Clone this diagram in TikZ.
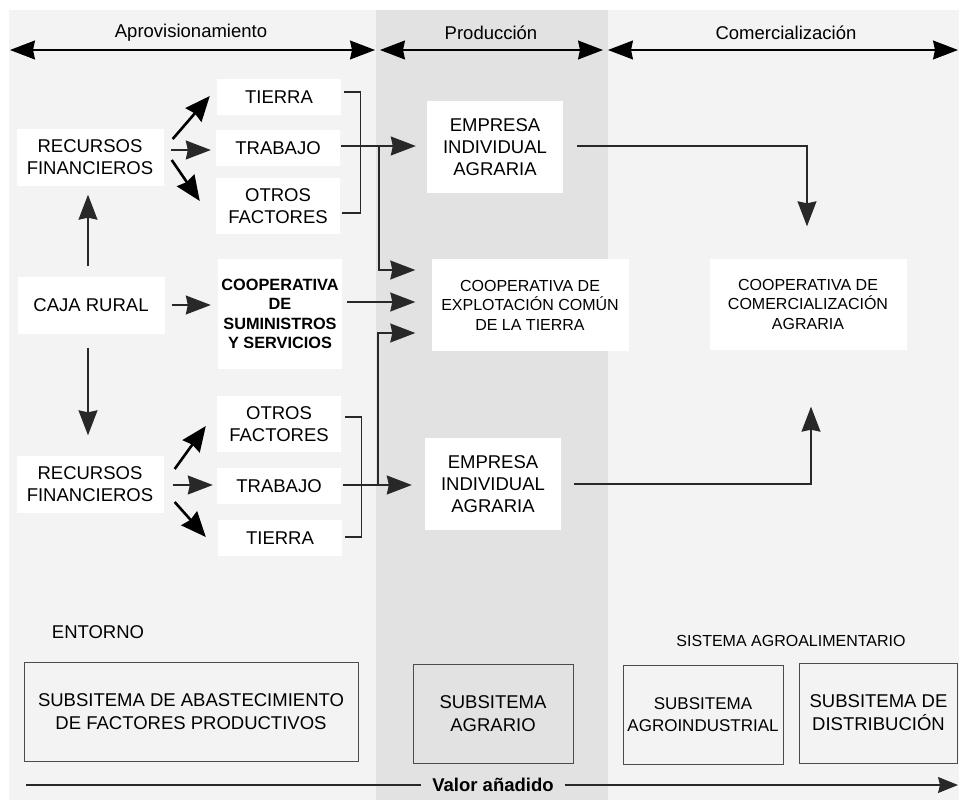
\documentclass[tikz,border=0pt]{standalone}
\usepackage{fontspec}
\setmainfont{Liberation Sans}
\usetikzlibrary{arrows.meta, calc, positioning}
\definecolor{bandlight}{RGB}{243,243,243}
\definecolor{banddark}{RGB}{226,226,226}
\definecolor{linegray}{RGB}{40,40,40}
\tikzstyle{factor} = [rectangle, text centered, align=center, fill=white,
	inner sep=0pt, minimum width=124pt, minimum height=36pt, font=\fontsize{18.5}{22}\selectfont]
\tikzstyle{agent} = [rectangle, text centered, align=center, fill=white,
	inner sep=0pt, minimum width=147pt, minimum height=57pt, font=\fontsize{18.5}{22}\selectfont]
\tikzstyle{coop} = [rectangle, text centered, align=center, fill=white,
	inner sep=0pt, minimum width=197pt, minimum height=92pt, font=\fontsize{16}{19.5}\selectfont]
\tikzstyle{subsystem} = [rectangle, text centered, align=center, draw=black!70,
	line width=1pt, inner sep=0pt, font=\fontsize{18.5}{23}\selectfont]
\tikzstyle{arrow} = [-{Stealth[length=25pt, width=19pt, inset=2pt]}, linegray, line width=1.2pt]
\tikzstyle{arrow-thick} = [-{Stealth[length=25pt, width=21pt, inset=2pt]}, black, line width=2.6pt]
\tikzstyle{span} = [{Stealth[length=25pt, width=19pt, inset=2pt]}-{Stealth[length=25pt, width=19pt, inset=2pt]}, black, line width=1.2pt]
\tikzstyle{link} = [linegray, line width=1.2pt]

\begin{document}
\begin{tikzpicture}[x=1pt, y=-1pt]
	\useasboundingbox (0,0) rectangle (959,800);

	% set up background bands
	\fill[bandlight] (9,10) rectangle (959,800);
	\fill[banddark] (376,10) rectangle (608,800);

	% set up phase headers
	\node (aprov) [font=\fontsize{18.5}{22}\selectfont] at (191,33) {Aprovisionamiento};
	\node (prod) [font=\fontsize{18.5}{22}\selectfont] at (491,33) {Producción};
	\node (comlabel) [font=\fontsize{18.5}{22}\selectfont] at (786,33) {Comercialización};
	\coordinate (a0) at (10,50);
	\coordinate (a1) at (375,50);
	\coordinate (p0) at (380,50);
	\coordinate (p1) at (603,50);
	\coordinate (c0) at (608,50);
	\coordinate (c1) at (958,50);
	\draw [span] (a0) -- (a1);
	\draw [span] (p0) -- (p1);
	\draw [span] (c0) -- (c1);

	% set up nodes
	\node (recursos1) [agent] at (90,157) {RECURSOS\\FINANCIEROS};
	\node (caja) [agent] at (91,305) {CAJA RURAL};
	\node (recursos2) [agent] at (90,484) {RECURSOS\\FINANCIEROS};
	\node (tierra1) [factor] at (279,97) {TIERRA};
	\node (trabajo1) [factor] at (278,148) {TRABAJO};
	\node (otros1) [factor, minimum height=56pt] at (278,206) {OTROS\\FACTORES};
	\node (suministros) [factor, minimum height=110pt, font=\fontsize{16.3}{19.5}\selectfont\bfseries] at (280,314) {COOPERATIVA\\DE\\SUMINISTROS\\Y SERVICIOS};
	\node (otros2) [factor, minimum height=56pt] at (279,424) {OTROS\\FACTORES};
	\node (trabajo2) [factor] at (279,486) {TRABAJO};
	\node (tierra2) [factor] at (280,538) {TIERRA};
	\node (empresa1) [factor, minimum width=136pt, minimum height=92pt] at (495,147) {EMPRESA\\INDIVIDUAL\\AGRARIA};
	\node (empresa2) [factor, minimum width=136pt, minimum height=92pt] at (493,484) {EMPRESA\\INDIVIDUAL\\AGRARIA};
	\node (coopexp) [coop] at (530,305) {COOPERATIVA DE\\EXPLOTACIÓN COMÚN\\DE LA TIERRA};
	\node (coopcom) [coop, minimum height=91pt] at (808,304) {COOPERATIVA DE\\COMERCIALIZACIÓN\\AGRARIA};

	% financing and factors
	\draw [arrow] ($(caja.north)+(-3,-10)$) -- ($(recursos1.south)+(-2,9)$);
	\draw [arrow] ($(caja.south)+(-3,14)$) -- ($(recursos2.north)+(-2,-20)$);
	\draw [arrow] ($(caja.east)+(7,0)$) -- ($(suministros.west)+(-7,-9)$);
	\draw [arrow-thick] ($(recursos1.east)+(9,-18)$) -- ($(tierra1.west)+(-7,-1)$);
	\draw [arrow] ($(recursos1.east)+(7,-7)$) -- ($(trabajo1.west)+(-5,2)$);
	\draw [arrow-thick] ($(recursos1.east)+(8,3)$) -- ($(otros1.west)+(-16,-5)$);
	\draw [arrow-thick] ($(recursos2.east)+(11,-15)$) -- ($(otros2.west)+(-11,2)$);
	\draw [arrow] ($(recursos2.east)+(9,1)$) -- ($(trabajo2.west)+(-4,-1)$);
	\draw [arrow-thick] ($(recursos2.east)+(11,18)$) -- ($(tierra2.west)+(-12,-1)$);

	% factors into the farms
	\draw [link] ($(tierra1.east)+(3,-5)$) -- ++(16,0) |- ($(otros1.east)+(2,7)$);
	\draw [link] ($(otros2.east)+(4,-7)$) -- ++(16,0) |- ($(tierra2.east)+(3,-1)$);
	\draw [arrow] ($(trabajo1.east)+(1,-2)$) -- ($(empresa1.west)+(-11,-1)$);
	\draw [arrow] ($(trabajo2.east)+(2,-1)$) -- ($(empresa2.west)+(-13,1)$);
	\coordinate (split1) at (379,146);
	\coordinate (split2) at (378,485);
	\draw [arrow] (split1) |- ($(coopexp.west)+(-16,-35)$);
	\draw [arrow] (split2) |- ($(coopexp.west)+(-16,28)$);
	\draw [arrow] ($(suministros.east)+(5,-12)$) -- ($(coopexp.west)+(-16,-3)$);

	% farms into marketing
	\draw [arrow] ($(empresa1.east)+(14,-1)$) -| ($(coopcom.north)+(-1,-32)$);
	\draw [arrow] ($(empresa2.east)+(13,0)$) -| ($(coopcom.south)+(3,57)$);

	% set up subsystems
	\node (entorno) [font=\fontsize{18.5}{22}\selectfont] at (98,632) {ENTORNO};
	\node (sistema) [font=\fontsize{16}{18}\selectfont] at (791,641) {SISTEMA AGROALIMENTARIO};
	\node (abast) [subsystem, minimum width=334pt, minimum height=99pt] at (191,711.5) {SUBSITEMA DE ABASTECIMIENTO\\DE FACTORES PRODUCTIVOS};
	\node (agrario) [subsystem, minimum width=160pt, minimum height=99pt] at (493,713.5) {SUBSITEMA\\AGRARIO};
	\node (agroind) [subsystem, minimum width=160pt, minimum height=99pt, font=\fontsize{17}{22}\selectfont] at (703,714.5) {SUBSITEMA\\AGROINDUSTRIAL};
	\node (distrib) [subsystem, minimum width=158pt, minimum height=100pt] at (878.5,713) {SUBSITEMA DE\\DISTRIBUCIÓN};

	% value added
	\node (valor) [inner xsep=11pt, inner ysep=0pt, font=\fontsize{18.5}{22}\selectfont\bfseries] at (493,785) {Valor añadido};
	\coordinate (v0) at (26,785);
	\coordinate (v1) at (958,785);
	\draw [link] (v0) -- (valor);
	\draw [link, -{Stealth[length=20pt, width=16pt, inset=2pt]}] (valor) -- (v1);

\end{tikzpicture}
\end{document}
